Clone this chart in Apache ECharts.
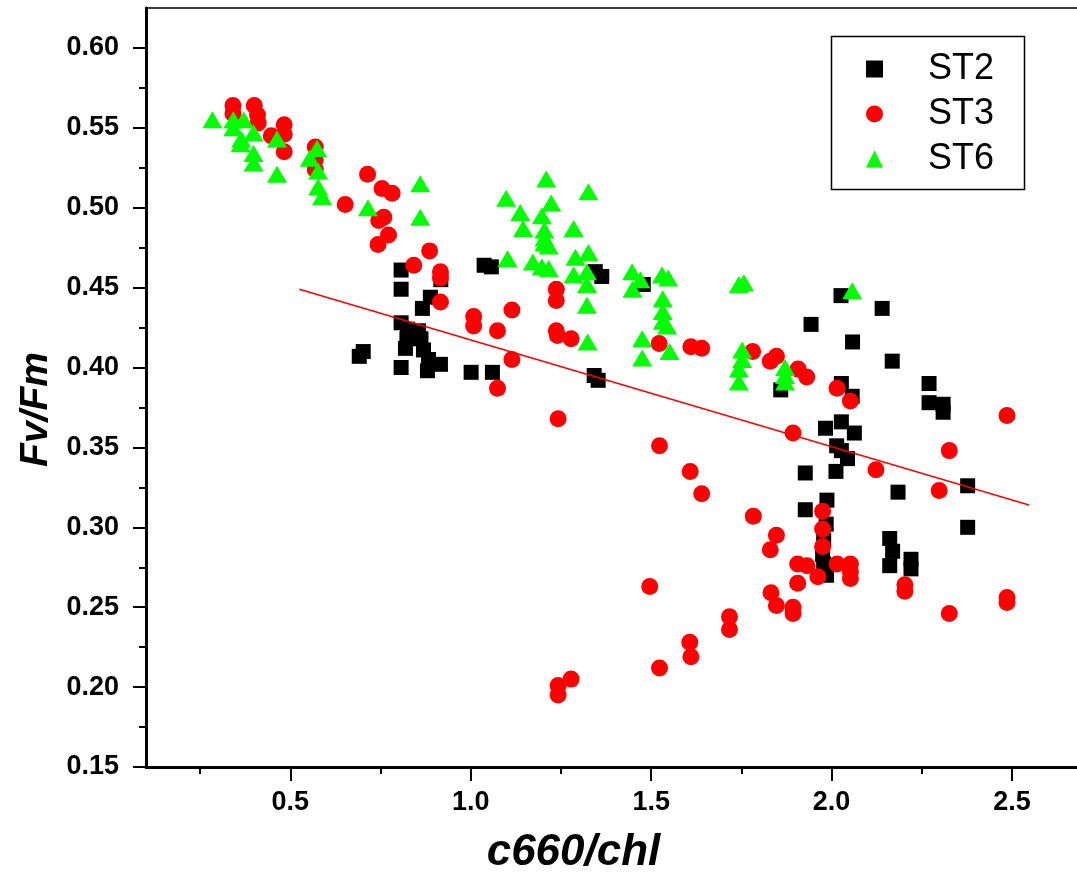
<!DOCTYPE html>
<html><head><meta charset="utf-8">
<script src="https://cdn.jsdelivr.net/npm/echarts@6/dist/echarts.min.js"></script>
<style>html,body{margin:0;padding:0;background:#fff}#c{width:1077px;height:881px}</style>
</head><body><div id="c"></div>
<script>
const seriesNames = ['ST2', 'ST3', 'ST6'];
const st2 = [[0.691,0.407],[0.702,0.410],[0.807,0.461],[0.807,0.449],[0.917,0.455],[1.037,0.464],[1.057,0.463],[0.888,0.444],[0.866,0.437],[0.807,0.428],[0.825,0.424],[0.855,0.423],[0.823,0.418],[0.862,0.418],[0.819,0.412],[0.869,0.411],[0.883,0.405],[0.916,0.402],[0.880,0.398],[0.807,0.400],[1.001,0.397],[1.060,0.397],[1.345,0.460],[1.363,0.457],[1.478,0.452],[1.342,0.395],[1.353,0.392],[2.026,0.445],[2.140,0.437],[1.943,0.427],[2.058,0.416],[2.168,0.404],[1.859,0.386],[2.027,0.390],[2.057,0.382],[1.983,0.362],[2.027,0.366],[2.063,0.359],[2.014,0.351],[2.027,0.348],[2.044,0.343],[1.927,0.334],[2.012,0.335],[2.270,0.390],[2.270,0.378],[2.309,0.377],[2.309,0.372],[2.377,0.326],[2.184,0.322],[2.377,0.300],[2.161,0.293],[2.169,0.285],[2.161,0.276],[2.220,0.280],[2.220,0.274],[1.987,0.317],[1.927,0.311],[1.985,0.302],[1.978,0.292],[1.978,0.277],[1.986,0.270],[1.975,0.283]];
const st3 = [[0.341,0.564],[0.341,0.559],[0.400,0.564],[0.409,0.558],[0.411,0.553],[0.483,0.552],[0.483,0.546],[0.447,0.545],[0.483,0.535],[0.569,0.538],[0.569,0.530],[0.569,0.524],[0.652,0.502],[0.714,0.521],[0.754,0.512],[0.782,0.509],[0.759,0.494],[0.745,0.492],[0.772,0.483],[0.743,0.477],[0.886,0.473],[0.842,0.464],[0.916,0.460],[0.916,0.456],[0.916,0.441],[1.008,0.432],[1.008,0.426],[1.074,0.423],[1.114,0.436],[1.114,0.405],[1.074,0.387],[1.237,0.449],[1.237,0.442],[1.237,0.423],[1.240,0.420],[1.278,0.418],[1.522,0.415],[1.610,0.413],[1.640,0.412],[1.781,0.410],[1.830,0.404],[1.847,0.407],[1.907,0.399],[1.931,0.394],[2.015,0.387],[2.052,0.379],[1.242,0.368],[1.893,0.359],[1.523,0.351],[1.608,0.335],[1.640,0.321],[2.486,0.370],[2.326,0.348],[2.123,0.336],[2.298,0.323],[1.783,0.307],[1.847,0.295],[1.830,0.286],[1.975,0.310],[1.975,0.299],[1.975,0.288],[1.906,0.277],[1.932,0.276],[1.962,0.269],[2.015,0.277],[2.052,0.277],[2.052,0.272],[2.052,0.268],[1.906,0.265],[1.832,0.259],[1.847,0.251],[1.893,0.250],[1.893,0.246],[2.203,0.264],[2.203,0.260],[2.326,0.246],[2.486,0.256],[2.486,0.253],[1.496,0.263],[1.717,0.244],[1.717,0.236],[1.607,0.228],[1.610,0.219],[1.523,0.212],[1.242,0.201],[1.242,0.195],[1.278,0.205]];
const st6 = [[0.284,0.555],[0.342,0.555],[0.371,0.555],[0.342,0.550],[0.398,0.547],[0.364,0.543],[0.362,0.540],[0.398,0.534],[0.398,0.528],[0.463,0.543],[0.463,0.521],[0.554,0.531],[0.574,0.537],[0.577,0.523],[0.577,0.513],[0.588,0.507],[0.715,0.500],[0.860,0.515],[0.860,0.494],[1.209,0.518],[1.326,0.510],[1.098,0.506],[1.223,0.503],[1.137,0.497],[1.197,0.495],[1.145,0.487],[1.204,0.486],[1.285,0.487],[1.204,0.481],[1.204,0.478],[1.216,0.476],[1.102,0.468],[1.172,0.466],[1.197,0.463],[1.216,0.462],[1.290,0.469],[1.326,0.472],[1.285,0.458],[1.322,0.460],[1.322,0.452],[1.322,0.439],[1.447,0.460],[1.470,0.455],[1.448,0.449],[1.530,0.458],[1.547,0.456],[1.532,0.443],[1.532,0.435],[1.532,0.429],[1.544,0.426],[1.475,0.418],[1.475,0.406],[1.551,0.410],[1.324,0.416],[1.743,0.452],[1.757,0.453],[1.752,0.411],[1.752,0.405],[1.743,0.399],[1.743,0.391],[1.871,0.400],[1.871,0.395],[1.871,0.391],[2.057,0.448]];
const fitLine = [[0.525,0.449],[2.547,0.314]];
const xMajor = [0.5, 1.0, 1.5, 2.0, 2.5];
const xMinor = [0.25, 0.75, 1.25, 1.75, 2.25];
const yMajor = [0.15, 0.20, 0.25, 0.30, 0.35, 0.40, 0.45, 0.50, 0.55, 0.60];
const yMinor = [0.175, 0.225, 0.275, 0.325, 0.375, 0.425, 0.475, 0.525, 0.575];
const xTitle = 'c660/chl';
const yTitle = 'Fv/Fm';

const FONT = '"Liberation Sans", Arial, sans-serif';
const X_MIN = 0.1, X_MAX = 2.68, Y_MIN = 0.15, Y_MAX = 0.625;

const chart = echarts.init(document.getElementById('c'), null, {renderer: 'canvas'});
const blank = {show: false};
chart.setOption({
  animation: false,
  backgroundColor: '#ffffff',
  grid: {left: 146, top: 8, right: 0, bottom: 114},
  graphic: [{
    type: 'rect', left: 829, top: 34, z: 10,
    shape: {width: 193, height: 153},
    style: {fill: 'none', stroke: '#000', lineWidth: 1.5}
  }],
  legend: {
    orient: 'vertical', left: 866, top: 51, padding: 0,
    itemWidth: 17, itemHeight: 17, itemGap: 9, selectedMode: false,
    data: seriesNames,
    textStyle: {fontSize: 36, lineHeight: 36, color: '#000', fontFamily: FONT, padding: [0, 0, 0, 40]}
  },
  xAxis: [
    {
      type: 'value', min: X_MIN, max: X_MAX, position: 'bottom',
      axisLine: {onZero: false, lineStyle: {color: '#000', width: 3}},
      axisTick: {customValues: xMajor, length: 14, lineStyle: {color: '#000', width: 2}},
      axisLabel: {customValues: xMajor, formatter: v => v.toFixed(1), fontSize: 27, fontWeight: 'bold', color: '#000', fontFamily: FONT, margin: 22},
      splitLine: blank,
      name: xTitle, nameLocation: 'middle', nameGap: 64,
      nameTextStyle: {fontSize: 44, fontWeight: 'bold', fontStyle: 'italic', color: '#000', fontFamily: FONT, padding: [0, 76, 0, 0]}
    },
    {
      type: 'value', min: X_MIN, max: X_MAX, position: 'bottom',
      axisLine: {show: false, onZero: false},
      axisTick: {customValues: xMinor, length: 7, lineStyle: {color: '#000', width: 2}},
      axisLabel: blank, splitLine: blank
    },
    {
      type: 'value', min: X_MIN, max: X_MAX, position: 'top',
      axisLine: {onZero: false, lineStyle: {color: '#000', width: 1.5}},
      axisTick: blank, axisLabel: blank, splitLine: blank
    }
  ],
  yAxis: [
    {
      type: 'value', min: Y_MIN, max: Y_MAX, position: 'left',
      axisLine: {onZero: false, lineStyle: {color: '#000', width: 3}},
      axisTick: {customValues: yMajor, length: 13, lineStyle: {color: '#000', width: 2}},
      axisLabel: {customValues: yMajor, formatter: v => v.toFixed(2), fontSize: 27, fontWeight: 'bold', color: '#000', fontFamily: FONT, margin: 27},
      splitLine: blank,
      name: yTitle, nameLocation: 'middle', nameGap: 89, nameRotate: 90,
      nameTextStyle: {fontSize: 39, fontWeight: 'bold', fontStyle: 'italic', color: '#000', fontFamily: FONT, padding: [0, 44, 0, 0]}
    },
    {
      type: 'value', min: Y_MIN, max: Y_MAX, position: 'left',
      axisLine: {show: false, onZero: false},
      axisTick: {customValues: yMinor, length: 7, lineStyle: {color: '#000', width: 2}},
      axisLabel: blank, splitLine: blank
    }
  ],
  series: [
    {name: 'ST2', type: 'scatter', data: st2, symbol: 'rect', symbolSize: 15, itemStyle: {color: '#000000', opacity: 1}},
    {name: 'ST3', type: 'scatter', data: st3, symbol: 'circle', symbolSize: 17, itemStyle: {color: '#ff0000', opacity: 1}},
    {name: 'ST6', type: 'scatter', data: st6, symbol: 'triangle', symbolSize: [20, 17], itemStyle: {color: '#00ff00', opacity: 1}},
    {name: 'fit', type: 'line', data: fitLine, symbol: 'none', silent: true, lineStyle: {color: '#ff0000', width: 1.5}, z: 3}
  ]
});
</script>
</body></html>
